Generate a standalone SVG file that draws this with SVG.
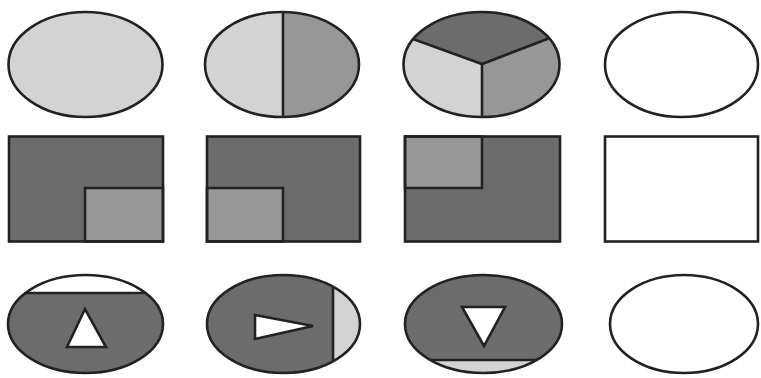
<svg xmlns="http://www.w3.org/2000/svg" width="761" height="378" viewBox="0 0 761 378">
<style>
.light{fill:#d3d3d3}
.mid{fill:#979797}
.dark{fill:#6c6c6c}
.white{fill:#ffffff}
.ol{fill:none;stroke:#222;stroke-width:2.6}
.ln{fill:none;stroke:#222;stroke-width:2.6;stroke-linejoin:miter}
.tri{fill:#fff;stroke:#222;stroke-width:2.6;stroke-linejoin:miter}
</style>
<defs>
<clipPath id="c13"><ellipse cx="481.5" cy="64.5" rx="78" ry="52.5"/></clipPath>
<clipPath id="c31"><ellipse cx="85.5" cy="324" rx="77.5" ry="49"/></clipPath>
<clipPath id="c32"><ellipse cx="283.5" cy="324" rx="76.5" ry="49"/></clipPath>
<clipPath id="c33"><ellipse cx="483.5" cy="324" rx="78.5" ry="49"/></clipPath>
<clipPath id="c12"><ellipse cx="282" cy="64.5" rx="77" ry="52.5"/></clipPath>
</defs>
<rect width="761" height="378" fill="#fff"/>

<g id="ellipse-full">
<ellipse class="light" cx="85.5" cy="64.5" rx="77" ry="52.5"/>
<ellipse class="ol" cx="85.5" cy="64.5" rx="77" ry="52.5"/>
</g>

<g id="ellipse-half">
<g clip-path="url(#c12)">
<rect class="light" x="200" y="10" width="83" height="110"/>
<rect class="mid" x="283" y="10" width="80" height="110"/>
<line class="ln" x1="283" y1="10" x2="283" y2="120"/>
</g>
<ellipse class="ol" cx="282" cy="64.5" rx="77" ry="52.5"/>
</g>

<g id="ellipse-thirds">
<g clip-path="url(#c13)">
<polygon class="dark" points="400,0 564,0 564,32.5 482,64 400,34.4"/>
<polygon class="light" points="400,34.4 482,64 482,120 400,120"/>
<polygon class="mid" points="482,64 564,32.5 564,120 482,120"/>
<polyline class="ln" points="400,34.4 482,64 564,32.5"/>
<line class="ln" x1="482" y1="64" x2="482" y2="120"/>
</g>
<ellipse class="ol" cx="481.5" cy="64.5" rx="78" ry="52.5"/>
</g>

<g id="ellipse-empty">
<ellipse class="white" cx="681.5" cy="64.5" rx="76.5" ry="52.5"/>
<ellipse class="ol" cx="681.5" cy="64.5" rx="76.5" ry="52.5"/>
</g>

<g id="rect-bottom-right">
<rect class="dark" x="9" y="136.5" width="154" height="105"/>
<rect class="mid" x="85" y="188" width="78" height="53.5"/>
<rect class="ln" x="85" y="188" width="78" height="53.5"/>
<rect class="ol" x="9" y="136.5" width="154" height="105"/>
</g>

<g id="rect-bottom-left">
<rect class="dark" x="207" y="136.5" width="153" height="105"/>
<rect class="mid" x="207" y="188" width="76" height="53.5"/>
<rect class="ln" x="207" y="188" width="76" height="53.5"/>
<rect class="ol" x="207" y="136.5" width="153" height="105"/>
</g>

<g id="rect-top-left">
<rect class="dark" x="405" y="136.5" width="155" height="105"/>
<rect class="mid" x="405" y="136.5" width="77" height="51.5"/>
<rect class="ln" x="405" y="136.5" width="77" height="51.5"/>
<rect class="ol" x="405" y="136.5" width="155" height="105"/>
</g>

<g id="rect-empty">
<rect class="white" x="605" y="136.5" width="153" height="105"/>
<rect class="ol" x="605" y="136.5" width="153" height="105"/>
</g>

<g id="ellipse-up">
<g clip-path="url(#c31)">
<rect class="dark" x="0" y="270" width="170" height="110"/>
<rect class="white" x="0" y="270" width="170" height="23"/>
<line class="ln" x1="0" y1="293" x2="170" y2="293"/>
</g>
<ellipse class="ol" cx="85.5" cy="324" rx="77.5" ry="49"/>
<polygon class="tri" points="85,309 67,347 106,347"/>
</g>

<g id="ellipse-right">
<g clip-path="url(#c32)">
<rect class="dark" x="200" y="270" width="133" height="110"/>
<rect class="light" x="333" y="270" width="40" height="110"/>
<line class="ln" x1="333" y1="270" x2="333" y2="380"/>
</g>
<ellipse class="ol" cx="283.5" cy="324" rx="76.5" ry="49"/>
<polygon class="tri" points="255,315 255,339 313,326"/>
</g>

<g id="ellipse-down">
<g clip-path="url(#c33)">
<rect class="dark" x="400" y="270" width="170" height="90"/>
<rect class="light" x="400" y="360" width="170" height="20"/>
<line class="ln" x1="400" y1="360" x2="570" y2="360"/>
</g>
<ellipse class="ol" cx="483.5" cy="324" rx="78.5" ry="49"/>
<polygon class="tri" points="462,307 505,307 484,346"/>
</g>

<g id="ellipse-empty-2">
<ellipse class="white" cx="684" cy="324" rx="74" ry="49"/>
<ellipse class="ol" cx="684" cy="324" rx="74" ry="49"/>
</g>
</svg>
